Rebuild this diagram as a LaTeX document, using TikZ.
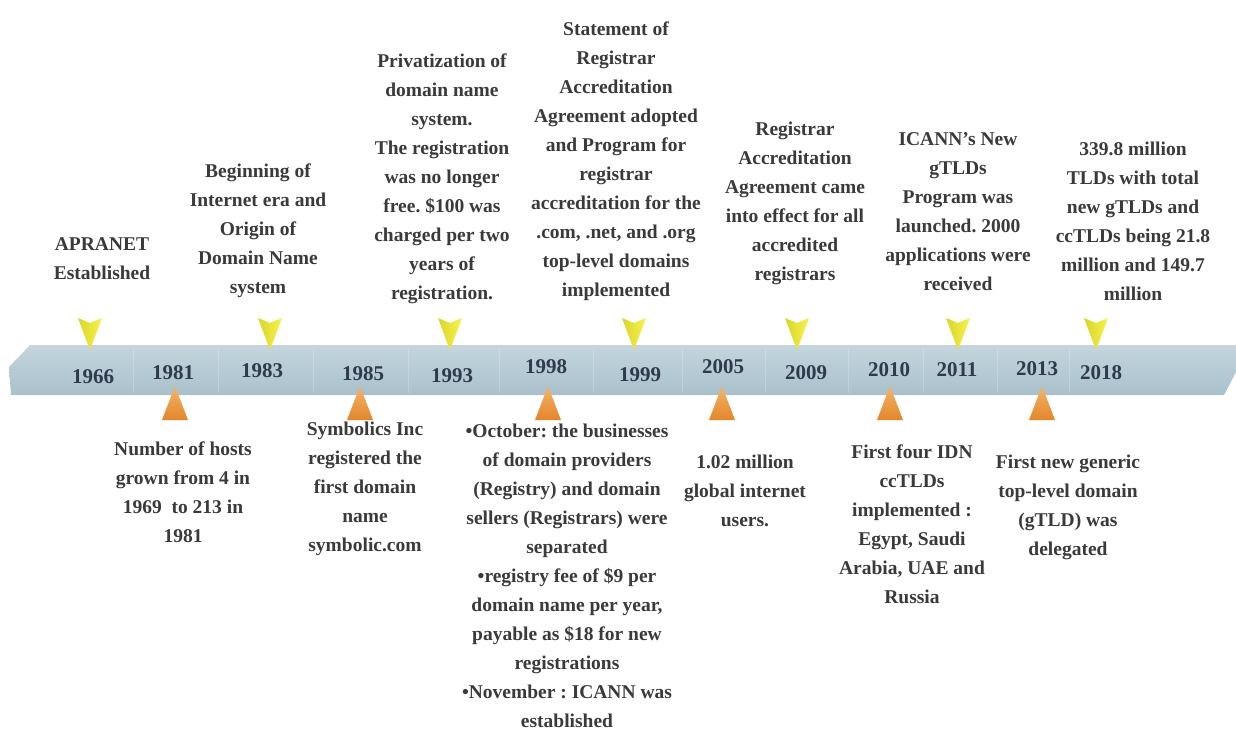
\documentclass[tikz,border=0pt]{standalone}
\usepackage{fontspec}
\setmainfont{Liberation Serif}
\frenchspacing
\definecolor{txt}{HTML}{3A3A3A}
\definecolor{yrc}{HTML}{2F3B4C}
\definecolor{barT}{HTML}{C4D6DE}
\definecolor{barB}{HTML}{A9C0CB}
\definecolor{ylL}{HTML}{D8D52A}
\definecolor{ylR}{HTML}{F8F34C}
\definecolor{orT}{HTML}{F3B46A}
\definecolor{orB}{HTML}{E3862A}
\newcommand{\descfont}{\bfseries\fontsize{19.5}{29}\selectfont}
\newcommand{\yrfont}{\bfseries\fontsize{21}{25}\selectfont}
\begin{document}
\begin{tikzpicture}[x=1pt,y=-1pt,
  desc/.style={font=\descfont,text=txt,align=center,inner sep=0pt,anchor=north},
  yr/.style={font=\yrfont,text=yrc,inner sep=0pt},
  ymark/.style={left color=ylL,right color=ylR,draw=none},
  omark/.style={top color=orT,bottom color=orB,draw=none},
  sepline/.style={draw=white,opacity=0.2,line width=1pt}]
\useasboundingbox (0,0) rectangle (1236,731);
\fill[white] (0,0) rectangle (1236,731);
% timeline bar
\shade[top color=barT,bottom color=barB] (30,345) -- (1236,345) -- (1236,372) -- (1224,395) -- (11,395) -- (9,367) -- cycle;
\foreach \x in {133,218,313,408,499,593,682,765,848,923,997,1069}
  \draw[sepline] (\x,348) -- (\x,393);
% markers
\foreach \x in {90,270,450,634,797,958,1096}
  \shade[ymark] (\x-12,318) -- (\x,323) -- (\x+12,318) -- (\x,350) -- cycle;
\foreach \x in {175,360,548,722,890,1042}
  \shade[omark] (\x,386) -- (\x+13,420) -- (\x-13,420) -- cycle;
% years
\node[yr] (y1966) at (93,377) {1966};
\node[yr] (y1981) at (173,373) {1981};
\node[yr] (y1983) at (262,371) {1983};
\node[yr] (y1985) at (363,374) {1985};
\node[yr] (y1993) at (452,376) {1993};
\node[yr] (y1998) at (546,367) {1998};
\node[yr] (y1999) at (640,375) {1999};
\node[yr] (y2005) at (723,367) {2005};
\node[yr] (y2009) at (806,373) {2009};
\node[yr] (y2010) at (889,370) {2010};
\node[yr] (y2011) at (957,370) {2011};
\node[yr] (y2013) at (1037,369) {2013};
\node[yr] (y2018) at (1101,373) {2018};
% top texts
\node[desc] (t1966) at (102,230) {\strut APRANET\\Established};
\node[desc] (t1983) at (258,157) {\strut Beginning of\\Internet era and\\Origin of\\Domain Name\\system};
\node[desc] (t1993) at (442,47) {\strut Privatization of\\domain name\\system.\\The registration\\was no longer\\free. \$100 was\\charged per two\\years of\\registration.};
\node[desc] (t1999) at (616,15) {\strut Statement of\\Registrar\\Accreditation\\Agreement adopted\\and Program for\\registrar\\accreditation for the\\.com, .net, and .org\\top-level domains\\implemented};
\node[desc] (t2009) at (795,115) {\strut Registrar\\Accreditation\\Agreement came\\into effect for all\\accredited\\registrars};
\node[desc] (t2011) at (958,125) {\strut ICANN's New\\gTLDs\\Program was\\launched. 2000\\applications were\\received};
\node[desc] (t2018) at (1133,135) {\strut 339.8 million\\TLDs with total\\new gTLDs and\\ccTLDs being 21.8\\million and 149.7\\million};
% bottom texts
\node[desc] (b1981) at (183,435) {\strut Number of hosts\\grown from 4 in\\1969~ to 213 in\\1981};
\node[desc] (b1985) at (365,415) {\strut Symbolics Inc\\registered the\\first domain\\name\\symbolic.com};
\node[desc] (b1998) at (567,417) {\strut •October: the businesses\\of domain providers\\(Registry) and domain\\sellers (Registrars) were\\separated\\•registry fee of \$9 per\\domain name per year,\\payable as \$18 for new\\registrations\\•November : ICANN was\\established};
\node[desc] (b2005) at (745,448) {\strut 1.02 million\\global internet\\users.};
\node[desc] (b2010) at (912,438) {\strut First four IDN\\ccTLDs\\implemented :\\Egypt, Saudi\\Arabia, UAE and\\Russia};
\node[desc] (b2013) at (1068,448) {\strut First new generic\\top-level domain\\(gTLD) was\\delegated};
\end{tikzpicture}
\end{document}
